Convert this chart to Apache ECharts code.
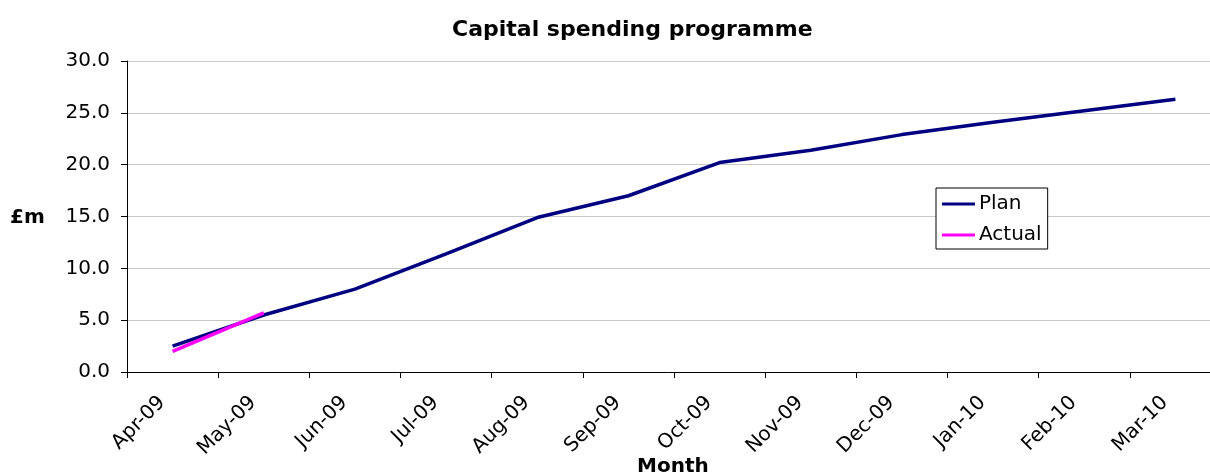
<!DOCTYPE html>
<html>
<head>
<meta charset="utf-8">
<script src="https://cdn.jsdelivr.net/npm/echarts@6/dist/echarts.min.js"></script>
<style>html,body{margin:0;padding:0;background:#fff;}#c{width:1210px;height:472px;}</style>
</head>
<body>
<div id="c"></div>
<script>
const months = ['Apr-09','May-09','Jun-09','Jul-09','Aug-09','Sep-09','Oct-09','Nov-09','Dec-09','Jan-10','Feb-10','Mar-10'];
const planValues = [2.5, 5.5, 8.0, 11.4, 14.9, 17.0, 20.2, 21.4, 22.9, 24.1, 25.2, 26.3];
const actualValues = [2.0, 5.7];
const yTicks = { min: 0, max: 30, interval: 5 };
const xAxisTitle = 'Month';
const yAxisTitle = '£m';

const FONT = 'DejaVu Sans';
const chart = echarts.init(document.getElementById('c'), null, { renderer: 'canvas' });
chart.setOption({
  animation: false,
  backgroundColor: '#fff',
  textStyle: { fontFamily: FONT, color: '#000' },
  title: {
    text: 'Capital spending programme',
    left: 447, top: 14,
    textStyle: { fontFamily: FONT, fontSize: 22, fontWeight: 'bold', color: '#000' }
  },
  legend: {
    left: 936, top: 188,
    orient: 'vertical',
    backgroundColor: '#fff',
    borderColor: '#000', borderWidth: 1, borderRadius: 0,
    padding: [6, 6, 4, 6],
    itemGap: 11,
    itemWidth: 33, itemHeight: 3,
    icon: 'rect',
    textStyle: { fontFamily: FONT, fontSize: 20, color: '#000', padding: [0, 0, 0, -1] },
    data: ['Plan', 'Actual']
  },
  graphic: [
    { type: 'text', left: 637, top: 457, z: 10,
      style: { text: xAxisTitle, fontFamily: FONT, fontSize: 20, fontWeight: 'bold', fill: '#000' } },
    { type: 'text', left: 10, top: 208, z: 10,
      style: { text: yAxisTitle, fontFamily: FONT, fontSize: 20, fontWeight: 'bold', fill: '#000' } }
  ],
  grid: { left: 127, right: -11, top: 61, bottom: 100, containLabel: false, outerBoundsMode: 'none' },
  xAxis: {
    type: 'category',
    data: months,
    boundaryGap: true,
    axisLine: { lineStyle: { color: '#000', width: 1 } },
    axisTick: { show: true, alignWithLabel: false, length: 6, lineStyle: { color: '#000' } },
    axisLabel: { rotate: 45, fontFamily: FONT, fontSize: 20, color: '#000', margin: 17, interval: 0,
      padding: [0, 15, 0, 0] },
    splitLine: { show: false }
  },
  yAxis: {
    type: 'value',
    min: yTicks.min, max: yTicks.max, interval: yTicks.interval,
    axisLine: { show: true, lineStyle: { color: '#000', width: 1 } },
    axisTick: { show: true, length: 6, lineStyle: { color: '#000' } },
    axisLabel: { fontFamily: FONT, fontSize: 20, color: '#000', margin: 17,
      formatter: v => v.toFixed(1) },
    splitLine: { show: true, lineStyle: { color: '#c8c8c8', width: 1 } }
  },
  series: [
    { name: 'Plan', type: 'line', data: planValues, symbol: 'none',
      lineStyle: { color: '#000080', width: 3.5 }, itemStyle: { color: '#000080' }, z: 2 },
    { name: 'Actual', type: 'line', data: actualValues, symbol: 'none',
      lineStyle: { color: '#ff00ff', width: 3.5 }, itemStyle: { color: '#ff00ff' }, z: 3 }
  ]
});
</script>
</body>
</html>
